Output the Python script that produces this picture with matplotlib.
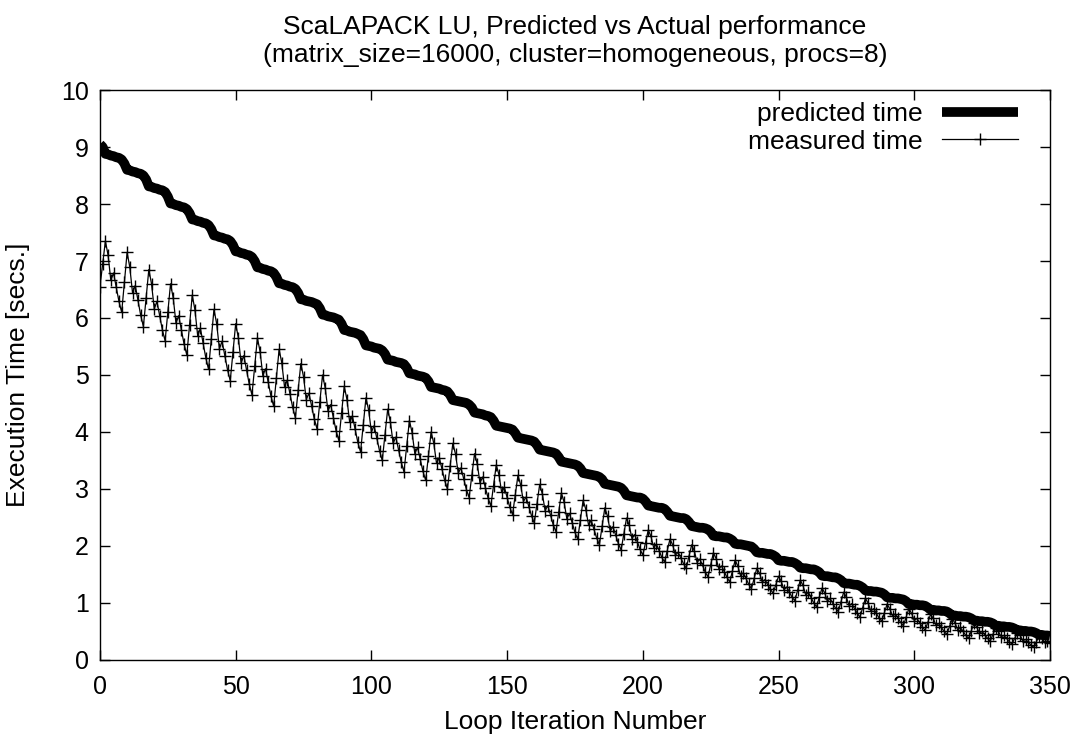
import matplotlib
matplotlib.use('Agg')
import matplotlib.pyplot as plt
import numpy as np

plt.rcParams['font.family'] = ['Liberation Sans', 'DejaVu Sans']

iterations = list(range(0, 351))

predicted_time = [
    9.05, 9.00,
    8.88, 8.87, 8.85, 8.84, 8.82, 8.81, 8.78, 8.71,
    8.60, 8.59, 8.57, 8.56, 8.54, 8.53, 8.50, 8.43,
    8.31, 8.30, 8.28, 8.27, 8.25, 8.24, 8.21, 8.13,
    8.01, 8.00, 7.98, 7.97, 7.95, 7.94, 7.91, 7.84,
    7.73, 7.72, 7.70, 7.69, 7.67, 7.66, 7.63, 7.56,
    7.45, 7.44, 7.42, 7.41, 7.39, 7.38, 7.35, 7.28,
    7.17, 7.16, 7.14, 7.13, 7.11, 7.10, 7.07, 7.00,
    6.89, 6.88, 6.86, 6.85, 6.83, 6.82, 6.79, 6.72,
    6.61, 6.60, 6.58, 6.57, 6.55, 6.54, 6.51, 6.44,
    6.33, 6.32, 6.30, 6.29, 6.28, 6.26, 6.24, 6.17,
    6.06, 6.05, 6.03, 6.02, 6.01, 5.99, 5.97, 5.90,
    5.79, 5.78, 5.76, 5.75, 5.74, 5.72, 5.70, 5.63,
    5.52, 5.51, 5.50, 5.48, 5.47, 5.46, 5.43, 5.37,
    5.27, 5.26, 5.25, 5.23, 5.22, 5.21, 5.19, 5.13,
    5.03, 5.02, 5.01, 4.99, 4.98, 4.97, 4.95, 4.89,
    4.79, 4.78, 4.77, 4.76, 4.74, 4.73, 4.71, 4.65,
    4.56, 4.55, 4.54, 4.53, 4.52, 4.51, 4.48, 4.43,
    4.34, 4.33, 4.32, 4.31, 4.29, 4.28, 4.26, 4.20,
    4.11, 4.10, 4.09, 4.08, 4.07, 4.06, 4.04, 3.98,
    3.90, 3.89, 3.88, 3.87, 3.86, 3.85, 3.83, 3.77,
    3.69, 3.68, 3.67, 3.66, 3.65, 3.64, 3.62, 3.56,
    3.48, 3.47, 3.46, 3.45, 3.44, 3.43, 3.41, 3.36,
    3.28, 3.27, 3.26, 3.25, 3.24, 3.23, 3.21, 3.17,
    3.09, 3.08, 3.07, 3.06, 3.05, 3.04, 3.02, 2.97,
    2.89, 2.88, 2.87, 2.86, 2.85, 2.85, 2.83, 2.78,
    2.71, 2.70, 2.69, 2.68, 2.67, 2.67, 2.65, 2.60,
    2.53, 2.52, 2.51, 2.50, 2.49, 2.49, 2.47, 2.42,
    2.35, 2.34, 2.33, 2.32, 2.32, 2.31, 2.29, 2.25,
    2.18, 2.17, 2.17, 2.16, 2.15, 2.15, 2.13, 2.10,
    2.04, 2.03, 2.03, 2.02, 2.01, 2.00, 1.99, 1.95,
    1.89, 1.88, 1.88, 1.87, 1.86, 1.86, 1.84, 1.81,
    1.75, 1.74, 1.74, 1.73, 1.72, 1.72, 1.70, 1.67,
    1.62, 1.61, 1.61, 1.60, 1.59, 1.59, 1.57, 1.54,
    1.48, 1.47, 1.47, 1.46, 1.45, 1.45, 1.43, 1.40,
    1.35, 1.34, 1.34, 1.33, 1.32, 1.32, 1.30, 1.27,
    1.22, 1.21, 1.21, 1.20, 1.20, 1.19, 1.18, 1.15,
    1.10, 1.09, 1.09, 1.08, 1.08, 1.07, 1.06, 1.03,
    0.98, 0.98, 0.97, 0.97, 0.96, 0.96, 0.95, 0.92,
    0.88, 0.88, 0.87, 0.87, 0.86, 0.86, 0.85, 0.82,
    0.78, 0.78, 0.77, 0.77, 0.76, 0.76, 0.75, 0.73,
    0.69, 0.69, 0.68, 0.68, 0.67, 0.67, 0.66, 0.64,
    0.60, 0.60, 0.59, 0.59, 0.58, 0.58, 0.57, 0.55,
    0.52, 0.52, 0.51, 0.51, 0.50, 0.50, 0.49, 0.47,
    0.44, 0.44, 0.43, 0.43, 0.42,
]

measured_time = [
    6.55, 6.95,
    7.35, 7.10, 6.66, 6.79, 6.54, 6.29, 6.10, 6.63,
    7.15, 6.89, 6.44, 6.57, 6.31, 6.05, 5.85, 6.35,
    6.85, 6.60, 6.16, 6.29, 6.04, 5.79, 5.60, 6.10,
    6.60, 6.35, 5.91, 6.04, 5.79, 5.54, 5.35, 5.88,
    6.40, 6.14, 5.69, 5.82, 5.56, 5.30, 5.10, 5.63,
    6.15, 5.90, 5.46, 5.59, 5.34, 5.09, 4.90, 5.40,
    5.90, 5.65, 5.21, 5.34, 5.09, 4.84, 4.65, 5.15,
    5.65, 5.41, 4.99, 5.11, 4.87, 4.63, 4.45, 4.95,
    5.45, 5.21, 4.79, 4.91, 4.67, 4.43, 4.25, 4.73,
    5.20, 4.97, 4.57, 4.68, 4.45, 4.22, 4.05, 4.53,
    5.00, 4.77, 4.37, 4.48, 4.25, 4.02, 3.85, 4.33,
    4.80, 4.57, 4.17, 4.28, 4.05, 3.82, 3.65, 4.13,
    4.60, 4.38, 4.00, 4.11, 3.89, 3.67, 3.50, 3.95,
    4.40, 4.18, 3.80, 3.91, 3.69, 3.47, 3.30, 3.75,
    4.20, 3.99, 3.62, 3.73, 3.52, 3.31, 3.15, 3.58,
    4.00, 3.80, 3.45, 3.55, 3.35, 3.15, 3.00, 3.40,
    3.80, 3.61, 3.28, 3.37, 3.18, 2.99, 2.85, 3.24,
    3.62, 3.44, 3.11, 3.21, 3.02, 2.84, 2.70, 3.06,
    3.42, 3.25, 2.94, 3.03, 2.85, 2.68, 2.55, 2.90,
    3.24, 3.07, 2.78, 2.86, 2.69, 2.53, 2.40, 2.74,
    3.08, 2.91, 2.62, 2.71, 2.54, 2.37, 2.25, 2.59,
    2.93, 2.77, 2.48, 2.57, 2.40, 2.24, 2.12, 2.46,
    2.80, 2.64, 2.37, 2.45, 2.29, 2.14, 2.02, 2.35,
    2.67, 2.52, 2.26, 2.34, 2.19, 2.04, 1.93, 2.21,
    2.49, 2.36, 2.13, 2.20, 2.07, 1.94, 1.84, 2.06,
    2.28, 2.17, 1.97, 2.03, 1.92, 1.80, 1.72, 1.92,
    2.12, 2.02, 1.84, 1.89, 1.79, 1.69, 1.61, 1.82,
    2.02, 1.91, 1.71, 1.77, 1.66, 1.54, 1.46, 1.67,
    1.88, 1.78, 1.60, 1.65, 1.55, 1.45, 1.37, 1.56,
    1.75, 1.65, 1.48, 1.53, 1.43, 1.33, 1.25, 1.43,
    1.61, 1.52, 1.37, 1.41, 1.32, 1.24, 1.17, 1.32,
    1.47, 1.38, 1.23, 1.28, 1.19, 1.10, 1.04, 1.22,
    1.40, 1.31, 1.14, 1.19, 1.09, 1.00, 0.93, 1.10,
    1.26, 1.18, 1.03, 1.08, 0.99, 0.91, 0.85, 1.02,
    1.19, 1.10, 0.95, 0.99, 0.90, 0.82, 0.75, 0.92,
    1.08, 1.00, 0.86, 0.90, 0.82, 0.74, 0.68, 0.83,
    0.98, 0.90, 0.77, 0.81, 0.73, 0.66, 0.60, 0.75,
    0.90, 0.82, 0.69, 0.73, 0.65, 0.58, 0.52, 0.66,
    0.80, 0.73, 0.61, 0.64, 0.57, 0.50, 0.45, 0.59,
    0.72, 0.65, 0.53, 0.57, 0.50, 0.43, 0.38, 0.51,
    0.64, 0.58, 0.47, 0.50, 0.44, 0.38, 0.33, 0.45,
    0.56, 0.50, 0.41, 0.43, 0.38, 0.32, 0.28, 0.38,
    0.48, 0.43, 0.34, 0.36, 0.31, 0.26, 0.22, 0.32,
    0.42, 0.38, 0.31, 0.33, 0.29,
]

x_ticks = [0, 50, 100, 150, 200, 250, 300, 350]
y_ticks = [0, 1, 2, 3, 4, 5, 6, 7, 8, 9, 10]

fig = plt.figure(figsize=(10.83, 7.47), dpi=100)
ax = fig.add_axes([0.0923, 0.1165, 0.8772, 0.763])

ax.plot(iterations, predicted_time, color='black', linewidth=7, solid_capstyle='butt',
        label='predicted time')
ax.plot(iterations, measured_time, color='black', linewidth=0.9, marker='+',
        markersize=8, markeredgewidth=1.0, label='measured time')

ax.set_xlim(0, 350)
ax.set_ylim(0, 10)
ax.set_xticks(x_ticks)
ax.set_yticks(y_ticks)
ax.tick_params(direction='in', length=7, width=1, top=True, right=True,
               labelsize=18)
ax.tick_params(axis='x', pad=11)
ax.tick_params(axis='y', pad=8)
for s in ax.spines.values():
    s.set_linewidth(1.0)

ax.set_xlabel('Loop Iteration Number', fontsize=19, labelpad=8)
ax.set_ylabel('Execution Time [secs.]', fontsize=19, labelpad=22)
ax.set_title('ScaLAPACK LU, Predicted vs Actual performance\n'
             '(matrix_size=16000, cluster=homogeneous, procs=8)', fontsize=19,
             pad=20, linespacing=1.22)

ax.legend(loc='upper right', bbox_to_anchor=(0.977, 0.997), frameon=False,
          markerfirst=False, fontsize=19, handlelength=2.85, borderaxespad=0,
          labelspacing=0.13, handletextpad=0.75)

plt.savefig('out.png', dpi=100)
